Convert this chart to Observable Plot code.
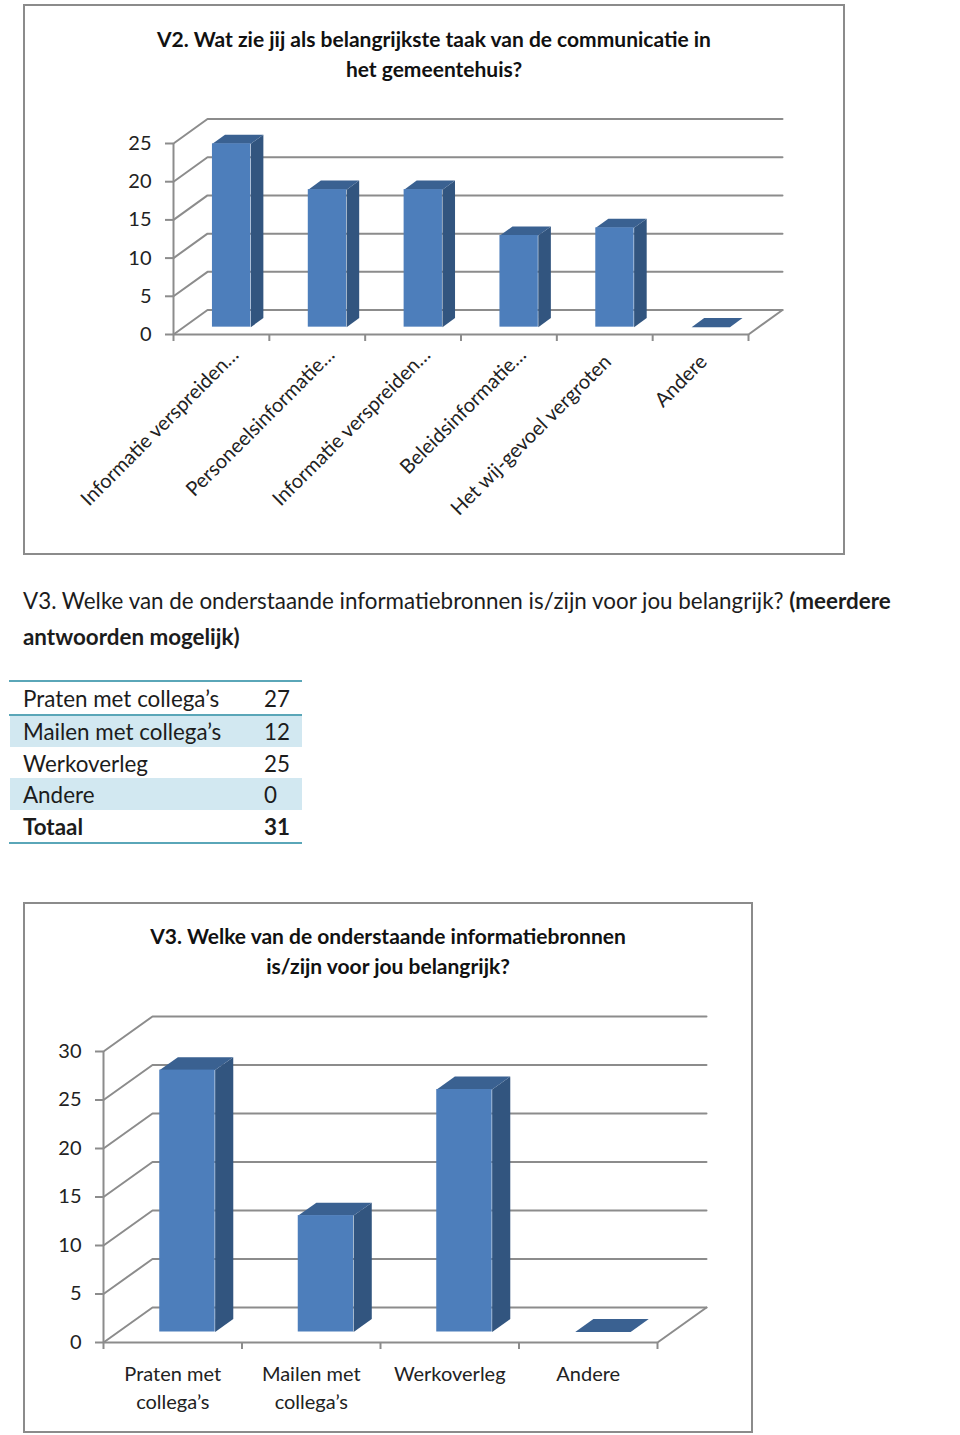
<!DOCTYPE html>
<html lang="nl">
<head>
<meta charset="utf-8">
<script src="https://cdn.jsdelivr.net/npm/d3@7"></script>
<script src="https://cdn.jsdelivr.net/npm/@observablehq/plot@0.6"></script>
<style>
  html, body { margin: 0; padding: 0; background: #fff; }
  body { position: relative; width: 960px; height: 1435px; overflow: hidden; font-family: Lato, sans-serif; color: #1c1c1c; }
  .chart { position: absolute; outline: 2.5px solid #8b8b8b; outline-offset: -2.5px; background: #fff; }
  .chart svg { position: absolute; left: 0; top: 0; background: transparent; }
  .ctitle { position: absolute; left: 0; width: 100%; text-align: center; font-weight: 700; font-size: 21px; line-height: 30px; color: #111; z-index: 2; }
  .para { position: absolute; left: 23px; white-space: nowrap; font-size: 22.4px; line-height: 36px; }
  .row { position: absolute; left: 10px; width: 292px; font-size: 22.4px; }
  .row span { position: absolute; top: 50%; transform: translateY(-50%); white-space: nowrap; }
  .row span.l { left: 13px; }
  .row span.v { left: 254px; }
</style>
</head>
<body>
<script>
const v2Title = ["V2. Wat zie jij als belangrijkste taak van de communicatie in", "het gemeentehuis?"];
const v2Categories = ["Informatie verspreiden…", "Personeelsinformatie…", "Informatie verspreiden…", "Beleidsinformatie…", "Het wij-gevoel vergroten", "Andere"];
const v2Values = [24, 18, 18, 12, 13, 0];
const v2Ticks = [0, 5, 10, 15, 20, 25];

const v3Intro = "V3. Welke van de onderstaande informatiebronnen is/zijn voor jou belangrijk? ";
const v3IntroBold = "(meerdere";
const v3IntroBold2 = "antwoorden mogelijk)";
const v3Title = ["V3. Welke van de onderstaande informatiebronnen", "is/zijn voor jou belangrijk?"];
const v3Categories = ["Praten met\ncollega’s", "Mailen met\ncollega’s", "Werkoverleg", "Andere"];
const v3Values = [27, 12, 25, 0];
const v3Ticks = [0, 5, 10, 15, 20, 25, 30];

const tableLabels = ["Praten met collega’s", "Mailen met collega’s", "Werkoverleg", "Andere", "Totaal"];
const tableValues = [27, 12, 25, 0, 31];

const GREY = "#8c8c8c", FRONT = "#4d7ebb", SIDE = "#32557f", TOP = "#3a6191";

function chart3D(o) {
  const n = o.categories.length;
  const dX = o.depthX, dY = o.depthY;           // wall depth in data units
  const zA = 0.30, zB = 0.67, w = 0.40;         // bar depth and width ratios
  const indices = d3.range(n);
  const x0 = i => i + 0.5 - w / 2 + zA * dX;
  const x1 = i => i + 0.5 + w / 2 + zA * dX;
  const base = zA * dY;
  const skX = (zB - zA) * dX, skY = (zB - zA) * dY;

  const sides = indices.flatMap(i => [
    [x1(i), base], [x1(i) + skX, base + skY],
    [x1(i) + skX, base + skY + o.values[i]], [x1(i), base + o.values[i]]
  ].map(([x, y]) => ({id: i, x, y})));
  const tops = indices.flatMap(i => [
    [x0(i), base + o.values[i]], [x1(i), base + o.values[i]],
    [x1(i) + skX, base + skY + o.values[i]], [x0(i) + skX, base + skY + o.values[i]]
  ].map(([x, y]) => ({id: i, x, y})));

  const grid = o.ticks.flatMap(t => [
    {id: t, x: 0, y: t}, {id: t, x: dX, y: t + dY}, {id: t, x: n + dX, y: t + dY}
  ]);
  const floorEdge = [{x: n, y: 0}, {x: n + dX, y: dY}];
  const lineOpts = {stroke: GREY, strokeWidth: 2};

  const labelMarks = o.labelMarks(indices);

  return Plot.plot({
    width: o.width, height: o.height,
    marginLeft: o.ml, marginRight: o.mr, marginTop: o.mt, marginBottom: o.mb,
    style: {fontFamily: "Lato, sans-serif", background: "transparent", color: "#222"},
    x: {domain: [0, n], label: null},
    y: {domain: [0, o.ticks[o.ticks.length - 1]], label: null},
    marks: [
      Plot.line(grid, {x: "x", y: "y", z: "id", ...lineOpts}),
      Plot.line(floorEdge, {x: "x", y: "y", ...lineOpts}),
      Plot.ruleX([0], {y1: 0, y2: o.ticks[o.ticks.length - 1], ...lineOpts}),
      Plot.ruleY([0], {x1: 0, x2: n, ...lineOpts}),
      Plot.axisY({ticks: o.ticks, tickSize: 8, tickPadding: o.tickPad, fontSize: o.tickFont, stroke: GREY, strokeWidth: 2, fill: "#222", label: null}),
      Plot.axisX({ticks: d3.range(n + 1), tickFormat: () => "", tickSize: 7, stroke: GREY, strokeWidth: 2, label: null}),
      Plot.line(sides, {x: "x", y: "y", z: "id", fill: SIDE, stroke: "none"}),
      Plot.line(tops, {x: "x", y: "y", z: "id", fill: TOP, stroke: "none"}),
      Plot.rect(indices.filter(i => o.values[i] > 0), {
        x1: i => x0(i), x2: i => x1(i),
        y1: () => base, y2: i => base + o.values[i], fill: FRONT
      }),
      ...labelMarks
    ]
  });
}

function place(left, top, width, height, title, titleTop, svg) {
  const box = document.createElement("div");
  box.className = "chart";
  box.style.cssText = `left:${left}px;top:${top}px;width:${width}px;height:${height}px`;
  const t = document.createElement("div");
  t.className = "ctitle";
  t.style.top = titleTop + "px";
  t.innerHTML = title.join("<br>");
  box.append(svg, t);
  document.body.append(box);
}

place(23, 4, 822, 551, v2Title, 20, chart3D({
  categories: v2Categories, values: v2Values, ticks: v2Ticks,
  width: 822, height: 551, ml: 150, mr: 97, mt: 139, mb: 221,
  depthX: 34 / 95.83, depthY: 24.5 / 7.65, tickFont: 20, tickPad: 14,
  labelMarks: idx => {
    const ell = idx.filter(i => v2Categories[i].endsWith("…"));
    const rest = idx.filter(i => !v2Categories[i].endsWith("…"));
    const common = {x: i => i + 0.5, y: () => 0, text: i => v2Categories[i], rotate: -45, textAnchor: "end", fontSize: 20, fill: "#222"};
    return [
      Plot.text(ell, {...common, dx: 14, dy: 17}),
      Plot.text(rest, {...common, dx: 3, dy: 24})
    ];
  }
}));

place(23, 902, 730, 531, v3Title, 19, chart3D({
  categories: v3Categories, values: v3Values, ticks: v3Ticks,
  width: 730, height: 531, ml: 80, mr: 96, mt: 149, mb: 91,
  depthX: 49 / 138.5, depthY: 35 / 9.7, tickFont: 20, tickPad: 14,
  labelMarks: idx => [
    Plot.text(idx, {x: i => i + 0.5, y: () => 0, text: i => v3Categories[i], lineAnchor: "top", lineHeight: 1.4, dy: 19, fontSize: 20, fill: "#222"})
  ]
}));

const p1 = document.createElement("div");
p1.className = "para"; p1.style.top = "583px";
p1.append(v3Intro);
const b1 = document.createElement("b"); b1.textContent = v3IntroBold; p1.append(b1);
const p2 = document.createElement("div");
p2.className = "para"; p2.style.top = "619px";
const b2 = document.createElement("b"); b2.textContent = v3IntroBold2; p2.append(b2);
document.body.append(p1, p2);

const rowTops = [681, 715, 747, 778, 810, 842];
const TEAL = "#5aa6b8";
tableLabels.forEach((label, i) => {
  const r = document.createElement("div");
  r.className = "row";
  r.style.top = rowTops[i] + "px";
  r.style.height = (rowTops[i + 1] - rowTops[i]) + "px";
  if (i % 2 === 1) r.style.background = "#d2e8f1";
  if (i === 4) r.style.fontWeight = "700";
  const a = document.createElement("span"); a.className = "l"; a.textContent = label;
  const b = document.createElement("span"); b.className = "v"; b.textContent = tableValues[i];
  r.append(a, b);
  document.body.append(r);
});
[680, 714, 842].forEach(y => {
  const l = document.createElement("div");
  l.style.cssText = `position:absolute;left:9px;width:293px;top:${y}px;height:2px;background:${TEAL}`;
  document.body.append(l);
});
</script>
</body>
</html>
